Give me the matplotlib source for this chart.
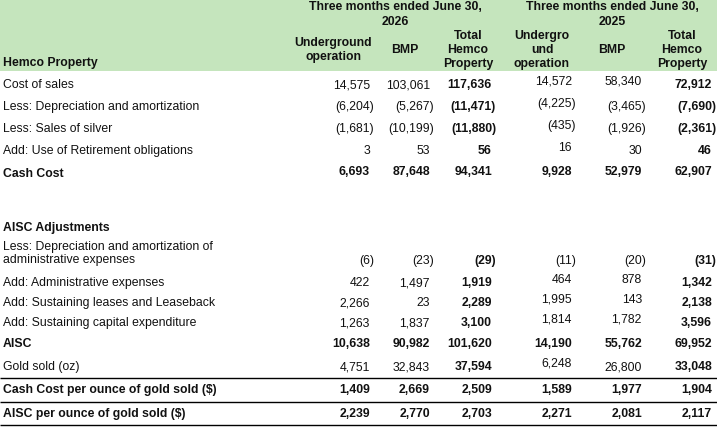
import matplotlib.pyplot as plt

# table contents
row_labels = [
    "Cost of sales",
    "Less: Depreciation and amortization",
    "Less: Sales of silver",
    "Add: Use of Retirement obligations",
    "Cash Cost",
    "AISC Adjustments",
    "Less: Depreciation and amortization of\nadministrative expenses",
    "Add: Administrative expenses",
    "Add: Sustaining leases and Leaseback",
    "Add: Sustaining capital expenditure",
    "AISC",
    "Gold sold (oz)",
    "Cash Cost per ounce of gold sold ($)",
    "AISC per ounce of gold sold ($)",
]

underground_2026 = [14575, -6204, -1681, 3, 6693, None, -6, 422, 2266, 1263, 10638, 4751, 1409, 2239]
bmp_2026 = [103061, -5267, -10199, 53, 87648, None, -23, 1497, 23, 1837, 90982, 32843, 2669, 2770]
total_2026 = [117636, -11471, -11880, 56, 94341, None, -29, 1919, 2289, 3100, 101620, 37594, 2509, 2703]
underground_2025 = [14572, -4225, -435, 16, 9928, None, -11, 464, 1995, 1814, 14190, 6248, 1589, 2271]
bmp_2025 = [58340, -3465, -1926, 30, 52979, None, -20, 878, 143, 1782, 55762, 26800, 1977, 2081]
total_2025 = [72912, -7690, -2361, 46, 62907, None, -31, 1342, 2138, 3596, 69952, 33048, 1904, 2117]

period_headers = ["Three months ended June 30,\n2026", "Three months ended June 30,\n2025"]
column_headers = [
    "Underground\noperation", "BMP", "Total\nHemco\nProperty",
    "Undergro\nund\noperation", "BMP", "Total\nHemco\nProperty",
]
corner_label = "Hemco Property"

# layout (pixels)
W, H = 717, 429
FS = 8.8
FONT = "Liberation Sans"
GREEN = "#c5e5bd"
INK = "#111111"
col_right = [370, 430, 492, 572, 642, 712]
col_center = [333, 405, 468, 542, 612, 682]
period_center = [395, 612]
row_y = [85, 107, 129, 151, 172, 228, 261, 283, 303, 323, 344, 367, 390, 414]
bold_rows = {4, 5, 10, 12, 13}
bold_cols = {2, 5}
rule_y = [378, 402, 425]
# cells that sit a little higher in the source
nudged = {(3, 0), (3, 1), (3, 2), (3, 3), (3, 7), (3, 8), (3, 9), (3, 11),
          (4, 0), (4, 7), (4, 8), (4, 9)}


def fmt(v):
    if v < 0:
        return f"({-v:,})"
    return f"{v:,}"


def lines_at(ax, text, x, y_center, step, **kw):
    parts = text.split("\n")
    top = y_center - step * (len(parts) - 1) / 2
    for i, part in enumerate(parts):
        ax.text(x, top + i * step, part, va="center", fontsize=FS, family=FONT, **kw)


fig = plt.figure(figsize=(W / 100, H / 100), dpi=100)
ax = fig.add_axes([0, 0, 1, 1])
ax.set_xlim(0, W)
ax.set_ylim(H, 0)
ax.axis("off")

ax.axhspan(0, 71, color=GREEN, lw=0)

for text, cx in zip(period_headers, period_center):
    lines_at(ax, text, cx, 14.5, 15, ha="center", fontweight="bold", color=INK)

for text, cx in zip(column_headers, col_center):
    lines_at(ax, text, cx, 50, 13.7, ha="center", fontweight="bold", color=INK)

ax.text(3, 63, corner_label, va="center", fontsize=FS, family=FONT,
        fontweight="bold", color=INK)

columns = [underground_2026, bmp_2026, total_2026, underground_2025, bmp_2025, total_2025]

for r, label in enumerate(row_labels):
    weight = "bold" if r in bold_rows else "normal"
    ly = row_y[r] + (2 if r == 4 else 0)
    if "\n" in label:
        lines_at(ax, label, 3, 253.5, 13.5, ha="left", fontweight=weight, color=INK)
    else:
        ax.text(3, ly, label, va="center", fontsize=FS, family=FONT,
                fontweight=weight, color=INK)

    for c, col in enumerate(columns):
        v = col[r]
        if v is None:
            continue
        cw = "bold" if (r in bold_rows or c in bold_cols) else "normal"
        x = col_right[c] + (4 if v < 0 else 0)
        y = row_y[r] - (3 if (c, r) in nudged else 0)
        ax.text(x, y, fmt(v), ha="right", va="center", fontsize=FS, family=FONT,
                fontweight=cw, color=INK)

ax.hlines(rule_y, 0, W, colors="black", lw=1.0)

fig.savefig("out.png", dpi=100)
